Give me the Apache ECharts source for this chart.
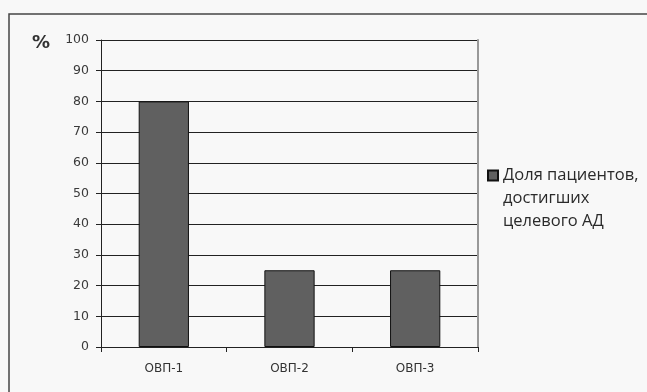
<!DOCTYPE html>
<html><head><meta charset="utf-8">
<script src="https://cdn.jsdelivr.net/npm/echarts@6/dist/echarts.min.js"></script>
<style>html,body{margin:0;padding:0;background:#f8f8f8}#c{width:647px;height:392px}</style>
</head><body><div id="c"></div>
<script>
var categories = ['ОВП-1', 'ОВП-2', 'ОВП-3'];
var values = [80, 25, 25];
var seriesName = 'Доля пациентов,\nдостигших\nцелевого АД';
var yTicks = [0, 10, 20, 30, 40, 50, 60, 70, 80, 90, 100];

var chart = echarts.init(document.getElementById('c'), null, {renderer: 'canvas'});
chart.setOption({
  backgroundColor: '#f8f8f8',
  animation: false,
  grid: {left: 101, top: 40, right: 169, bottom: 45},
  graphic: [
    {type: 'rect', shape: {x: 9, y: 14, width: 700, height: 400}, style: {fill: 'none', stroke: '#444', lineWidth: 1.5}},
    {type: 'text', left: 32, top: 34, style: {text: '%', font: 'bold 18px "DejaVu Sans"', fill: '#333'}}
  ],
  legend: {
    left: 487, top: 118, orient: 'vertical', padding: 0,
    itemWidth: 10, itemHeight: 10, itemGap: 6,
    formatter: function (n) { return '\n\n' + n; },
    textStyle: {fontFamily: 'Open Sans', fontSize: 16.5, color: '#2a2a2a', lineHeight: 23},
    data: [{name: seriesName, icon: 'rect'}]
  },
  xAxis: {
    type: 'category', data: categories,
    axisLine: {lineStyle: {color: '#222', width: 1}},
    axisTick: {show: true, interval: 0, length: 5, lineStyle: {color: '#222'}},
    axisLabel: {fontFamily: 'DejaVu Sans', fontSize: 12, color: '#333', margin: 16}
  },
  yAxis: [{
    type: 'value', min: 0, max: 100, interval: 10,
    axisLine: {show: true, lineStyle: {color: '#222', width: 1}},
    axisTick: {show: true, length: 5, lineStyle: {color: '#222'}},
    axisLabel: {fontFamily: 'DejaVu Sans', fontSize: 12.5, color: '#3a3a3a', margin: 12},
    splitLine: {lineStyle: {color: '#222', width: 1}}
  }, {
    type: 'value', min: 0, max: 100, interval: 10, position: 'right',
    axisLine: {show: true, lineStyle: {color: '#999', width: 2}},
    axisTick: {show: false}, axisLabel: {show: false}, splitLine: {show: false}
  }],
  series: [{
    name: seriesName, type: 'bar', data: values, barWidth: '40%',
    itemStyle: {color: '#606060', borderColor: '#111', borderWidth: 1}
  }]
});
</script></body></html>
